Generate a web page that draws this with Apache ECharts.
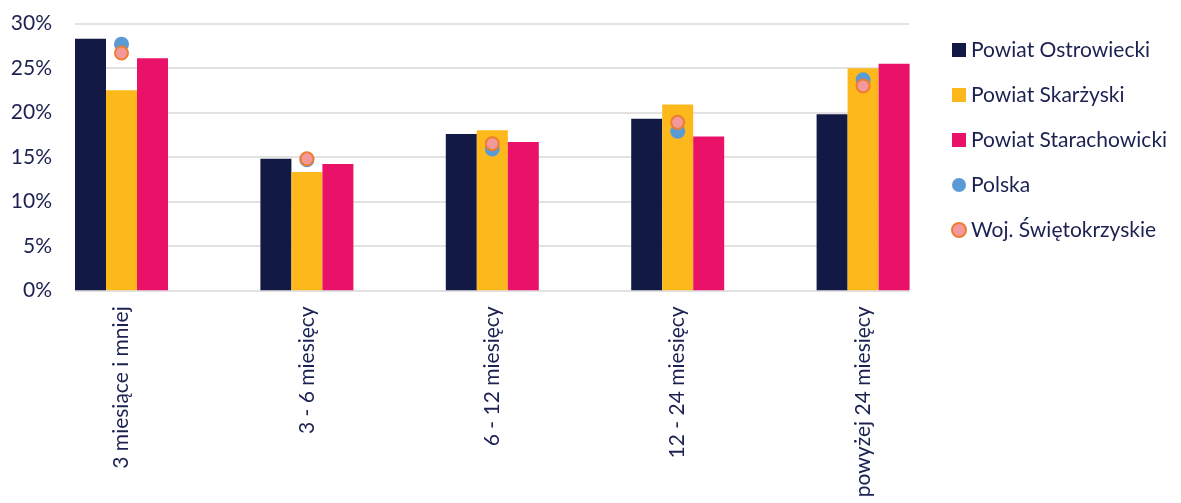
<!DOCTYPE html>
<html>
<head>
<meta charset="utf-8">
<style>
  html, body { margin: 0; padding: 0; background: #fff; }
  #chart { width: 1181px; height: 503px; }
</style>
<script src="https://cdn.jsdelivr.net/npm/echarts@6/dist/echarts.min.js"></script>
</head>
<body>
<div id="chart"></div>
<script>
// categories and values (percent)
const categories = ['3 miesiące i mniej', '3 - 6 miesięcy', '6 - 12 miesięcy', '12 - 24 miesięcy', 'powyżej 24 miesięcy']
const ostrowiecki = [28.3, 14.8, 17.6, 19.3, 19.8]
const skarzyski = [22.5, 13.3, 18.0, 20.9, 25.0]
const starachowicki = [26.1, 14.2, 16.7, 17.3, 25.5]
const polska = [27.7, 14.7, 15.9, 17.9, 23.7]
const wojewodztwo = [26.7, 14.8, 16.5, 18.9, 23.0]
const yTicks = [0, 5, 10, 15, 20, 25, 30]

const textColor = '#1b2150'
const gridColor = '#d9d9d9'
const font = 'Lato, "Liberation Sans", sans-serif'
const fontSize = 21

const chart = echarts.init(document.getElementById('chart'))

chart.setOption({
  backgroundColor: '#fff',
  animation: false,
  textStyle: { fontFamily: font },
  legend: {
    orient: 'vertical',
    left: 946,
    top: 33,
    itemWidth: 14,
    itemHeight: 14,
    itemGap: 21,
    textStyle: { color: textColor, fontSize: fontSize, lineHeight: 24, fontFamily: font },
    data: [
      { name: 'Powiat Ostrowiecki', icon: 'rect' },
      { name: 'Powiat Skarżyski', icon: 'rect' },
      { name: 'Powiat Starachowicki', icon: 'rect' },
      { name: 'Polska', icon: 'circle' },
      { name: 'Woj. Świętokrzyskie', icon: 'circle' }
    ]
  },
  grid: [
    // bars: full category bands
    { left: 28.8, right: 225.2, top: 23.7, bottom: 212.7 },
    // visible gridlines and y labels
    { left: 75, right: 272, top: 23.7, bottom: 212.7 }
  ],
  xAxis: [{
    type: 'category',
    gridIndex: 0,
    data: categories,
    axisLine: { show: false },
    axisTick: { show: false },
    axisLabel: {
      rotate: 90,
      margin: 16,
      color: textColor,
      fontSize: fontSize,
      fontFamily: font,
      interval: 0
    }
  }, {
    type: 'value',
    gridIndex: 1,
    min: 0,
    max: 1,
    show: false
  }],
  yAxis: [{
    type: 'value',
    gridIndex: 0,
    min: 0,
    max: 30,
    interval: 5,
    show: false
  }, {
    type: 'value',
    gridIndex: 1,
    min: yTicks[0],
    max: yTicks[yTicks.length - 1],
    interval: 5,
    axisLine: { show: false },
    axisTick: { show: false },
    splitLine: { lineStyle: { color: gridColor, width: 1.5 } },
    axisLabel: {
      margin: 23,
      color: textColor,
      fontSize: fontSize,
      fontFamily: font,
      formatter: '{value}%'
    }
  }],
  series: [{
    name: 'Powiat Ostrowiecki',
    type: 'bar',
    barWidth: 31,
    barGap: '0%',
    itemStyle: { color: '#121944' },
    data: ostrowiecki
  }, {
    name: 'Powiat Skarżyski',
    type: 'bar',
    barWidth: 31,
    barGap: '0%',
    itemStyle: { color: '#fdb81c' },
    data: skarzyski
  }, {
    name: 'Powiat Starachowicki',
    type: 'bar',
    barWidth: 31,
    barGap: '0%',
    itemStyle: { color: '#ea1268' },
    data: starachowicki
  }, {
    name: 'Polska',
    type: 'scatter',
    symbolSize: 15,
    z: 3,
    itemStyle: { color: '#5b9bd5', opacity: 1 },
    data: polska
  }, {
    name: 'Woj. Świętokrzyskie',
    type: 'scatter',
    symbolSize: 13,
    z: 4,
    itemStyle: { color: '#f4999b', borderColor: '#ed7d31', borderWidth: 2, opacity: 1 },
    data: wojewodztwo
  }]
})
</script>
</body>
</html>
